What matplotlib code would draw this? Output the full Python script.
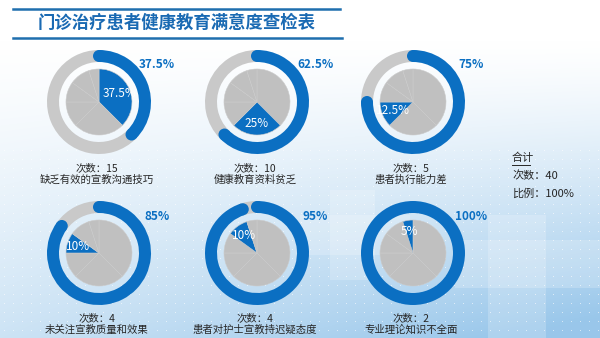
import numpy as np
import matplotlib
matplotlib.use("Agg")
import matplotlib.pyplot as plt
from matplotlib.patches import Circle, Rectangle

plt.rcParams['font.family'] = ['Noto Sans CJK SC', 'DejaVu Sans']

# 数据
categories = ["缺乏有效的宣教沟通技巧", "健康教育资料贫乏", "患者执行能力差",
              "未关注宣教质量和效果", "患者对护士宣教持迟疑态度", "专业理论知识不全面"]
counts = [15, 10, 5, 4, 4, 2]
pcts = [37.5, 25, 12.5, 10, 10, 5]
cum_pcts = [37.5, 62.5, 75, 85, 95, 100]
inner_labels = ["37.5%", "25%", "12.5%", "10%", "10%", "5%"]
outer_labels = ["37.5%", "62.5%", "75%", "85%", "95%", "100%"]
total_count = 40
total_pct = "100%"
title = "门诊治疗患者健康教育满意度查检表"

W, H = 600, 338
BLUE = "#0b6fc2"
GRAY_RING = "#c9c9c9"
GRAY_PIE = "#c0c0c0"
TXT = "#262626"

fig = plt.figure(figsize=(W / 100, H / 100), dpi=100)
ax = fig.add_axes([0, 0, 1, 1])


def Y(y):
    # y 从上往下量
    return H - y


# 背景渐变
yy, xx = np.mgrid[0:H, 0:W]
ty = np.clip((yy - 40) / (H - 40), 0, 1) ** 1.3
tx = xx / W
m = np.clip(ty * (0.5 + 0.6 * tx), 0, 1)
target = np.array([0.60, 0.78, 0.92])
bg = 1 - m[..., None] * (1 - target)
ax.imshow(bg, extent=(0, W, 0, H), origin="upper", zorder=0, aspect="auto")

# 十字装饰
for (x0, y0, w, h) in [(488, 215, 58, 123), (455, 240, 145, 48),
                       (330, 190, 45, 90), (300, 215, 110, 40)]:
    ax.add_patch(Rectangle((x0, Y(y0 + h)), w, h, color="white", alpha=0.2,
                           lw=0, zorder=0.5))
dx, dy = np.meshgrid(np.arange(4, W, 9), np.arange(150, H, 9))
ax.scatter(dx.ravel(), Y(dy.ravel()), s=0.6, color="white", alpha=0.7,
           lw=0, zorder=0.6)

# 标题
ax.plot([13, 340], [Y(8.5), Y(8.5)], color="#1f6fae", lw=1.8, zorder=2)
ax.plot([13, 342], [Y(37.5), Y(37.5)], color="#1f6fae", lw=1.8, zorder=2)
ax.text(38, Y(22.5), title, fontsize=12.5, fontweight="bold", color="#1a6ab3",
        ha="left", va="center", zorder=3)

# 饼图
centers_x = [99, 257, 413]
centers_y = [102, 253]
R_out, ring_w, R_in = 52, 12, 33

for i in range(6):
    cx = centers_x[i % 3]
    cy = centers_y[i // 3]
    c = (cx, Y(cy))
    cum = cum_pcts[i]

    # 外环
    ax.pie([cum, 100 - cum], colors=[BLUE, GRAY_RING], startangle=90,
           counterclock=False, radius=R_out, center=c, frame=True,
           wedgeprops=dict(width=ring_w, lw=0))
    if cum < 100:
        rm = R_out - ring_w / 2
        for ang in [90, 90 - cum * 3.6]:
            a = np.deg2rad(ang)
            ax.add_patch(Circle((cx + rm * np.cos(a), Y(cy) + rm * np.sin(a)),
                                ring_w / 2, color=BLUE, lw=0, zorder=3))

    # 内饼
    cols = [GRAY_PIE] * 6
    cols[i] = BLUE
    ax.pie(pcts, colors=cols, startangle=90, counterclock=False, radius=R_in,
           center=c, frame=True,
           wedgeprops=dict(edgecolor="#cbcbcb", lw=0.4))
    start = cum - pcts[i]
    mid = 90 - (start + pcts[i] / 2) * 3.6
    a = np.deg2rad(mid)
    rl = R_in * 0.66
    ax.text(cx + rl * np.cos(a), Y(cy) + rl * np.sin(a), inner_labels[i],
            color="white", fontsize=8.5, fontweight="medium",
            ha="center", va="center", zorder=5)

    # 外标签
    ax.text(cx + 58, Y(cy - 37), outer_labels[i], color=BLUE, fontsize=8.5,
            fontweight="bold", ha="center", va="center", zorder=5)

    # 次数与类别
    ly = 168 if i < 3 else 318
    ax.text(cx - 2, Y(ly), f"次数：{counts[i]}", color=TXT, fontsize=7.5,
            fontweight="medium", ha="center", va="center", zorder=5)
    ax.text(cx - 2, Y(ly + 12), categories[i], color=TXT, fontsize=7.5,
            fontweight="medium", ha="center", va="center", zorder=5)

# 合计
ax.text(512, Y(158), "合计", color=TXT, fontsize=8, fontweight="medium",
        ha="left", va="center", zorder=5)
ax.plot([512, 530], [Y(165), Y(165)], color=TXT, lw=0.7, zorder=5)
ax.text(512, Y(176), f"次数：{total_count}", color=TXT, fontsize=8,
        fontweight="medium", ha="left", va="center", zorder=5)
ax.text(512, Y(194), f"比例：{total_pct}", color=TXT, fontsize=8,
        fontweight="medium", ha="left", va="center", zorder=5)

ax.set_xlim(0, W)
ax.set_ylim(0, H)
ax.set_aspect("auto")
ax.axis("off")

fig.savefig("out.png", dpi=100)
